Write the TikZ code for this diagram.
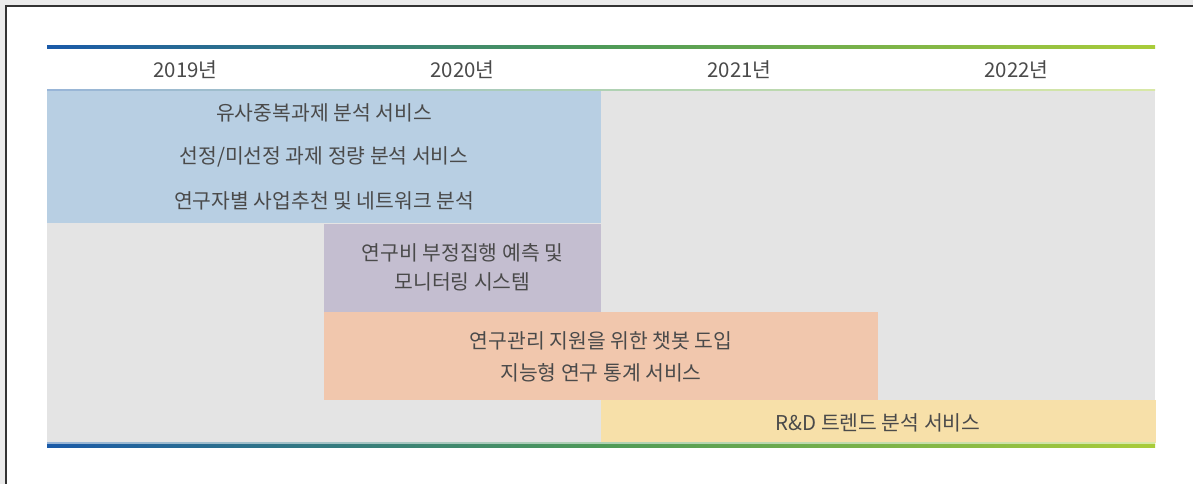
\documentclass[tikz,border=0pt]{standalone}
\usepackage{fontspec}
\setmainfont{Noto Sans CJK KR}
\definecolor{txt}{HTML}{4A4A4A}
\definecolor{gblue}{HTML}{1A5AA8}
\definecolor{ggreen}{HTML}{4E9A58}
\definecolor{gyel}{HTML}{A9CC3A}
\definecolor{cblue}{HTML}{B8CFE3}
\definecolor{cgray}{HTML}{E4E4E4}
\definecolor{cpurp}{HTML}{C4BED0}
\definecolor{corng}{HTML}{F1C7AD}
\definecolor{cyel}{HTML}{F7E0A9}
\definecolor{outer}{HTML}{EBEBEB}
\tikzset{
  box/.style={draw=none, inner sep=0pt, outer sep=0pt, anchor=north west},
  lbl/.style={text=txt, font=\fontsize{20.4}{24}\selectfont, inner sep=0pt, anchor=center},
}
\begin{document}
\begin{tikzpicture}[x=1pt,y=-1pt]
\useasboundingbox (0,0) rectangle (1193,484);
\fill[outer] (0,0) rectangle (1193,484);
\fill[white] (6,6) rectangle (1193,484);
\draw[line width=1.6pt, color=black!80] (5.8,484) -- (5.8,5.8) -- (1193,5.8);
% grey base
\fill[cgray] (47,91) rectangle (1155,443);
% colored boxes
\node[box, fill=cblue, minimum width=554pt, minimum height=132pt] (b1) at (47,91) {};
\node[box, fill=cpurp, minimum width=277pt, minimum height=88pt] (b2) at (324,223.5) {};
\node[box, fill=corng, minimum width=554pt, minimum height=88pt] (b3) at (324,312) {};
\node[box, fill=cyel, minimum width=555pt, minimum height=43pt] (b4) at (601,400) {};
% gradient lines
\shade[left color=gblue, right color=gyel, middle color=ggreen] (47,45.5) rectangle (1155,48.5);
\shade[left color=gblue!45, right color=gyel!45, middle color=ggreen!45] (47,89.5) rectangle (1155,91);
\shade[left color=gblue!45, right color=gyel!45, middle color=ggreen!45] (47,442.5) rectangle (1155,444);
\shade[left color=gblue, right color=gyel, middle color=ggreen] (47,444) rectangle (1155,447);
% headers
\node[lbl] (y1) at (185.5,70) {2019년};
\node[lbl] (y2) at (462.5,70) {2020년};
\node[lbl] (y3) at (739.5,70) {2021년};
\node[lbl] (y4) at (1016.5,70) {2022년};
% texts
\node[lbl] (t1) at (324,113) {유사중복과제 분석 서비스};
\node[lbl] (t2) at (324,157) {선정/미선정 과제 정량 분석 서비스};
\node[lbl] (t3) at (324,201) {연구자별 사업추천 및 네트워크 분석};
\node[lbl] (t4) at (462.5,253) {연구비 부정집행 예측 및};
\node[lbl] (t5) at (462.5,282) {모니터링 시스템};
\node[lbl] (t6) at (601,341) {연구관리 지원을 위한 챗봇 도입};
\node[lbl] (t7) at (601,373) {지능형 연구 통계 서비스};
\node[lbl] (t8) at (878,423) {R\&D 트렌드 분석 서비스};
\end{tikzpicture}
\end{document}
